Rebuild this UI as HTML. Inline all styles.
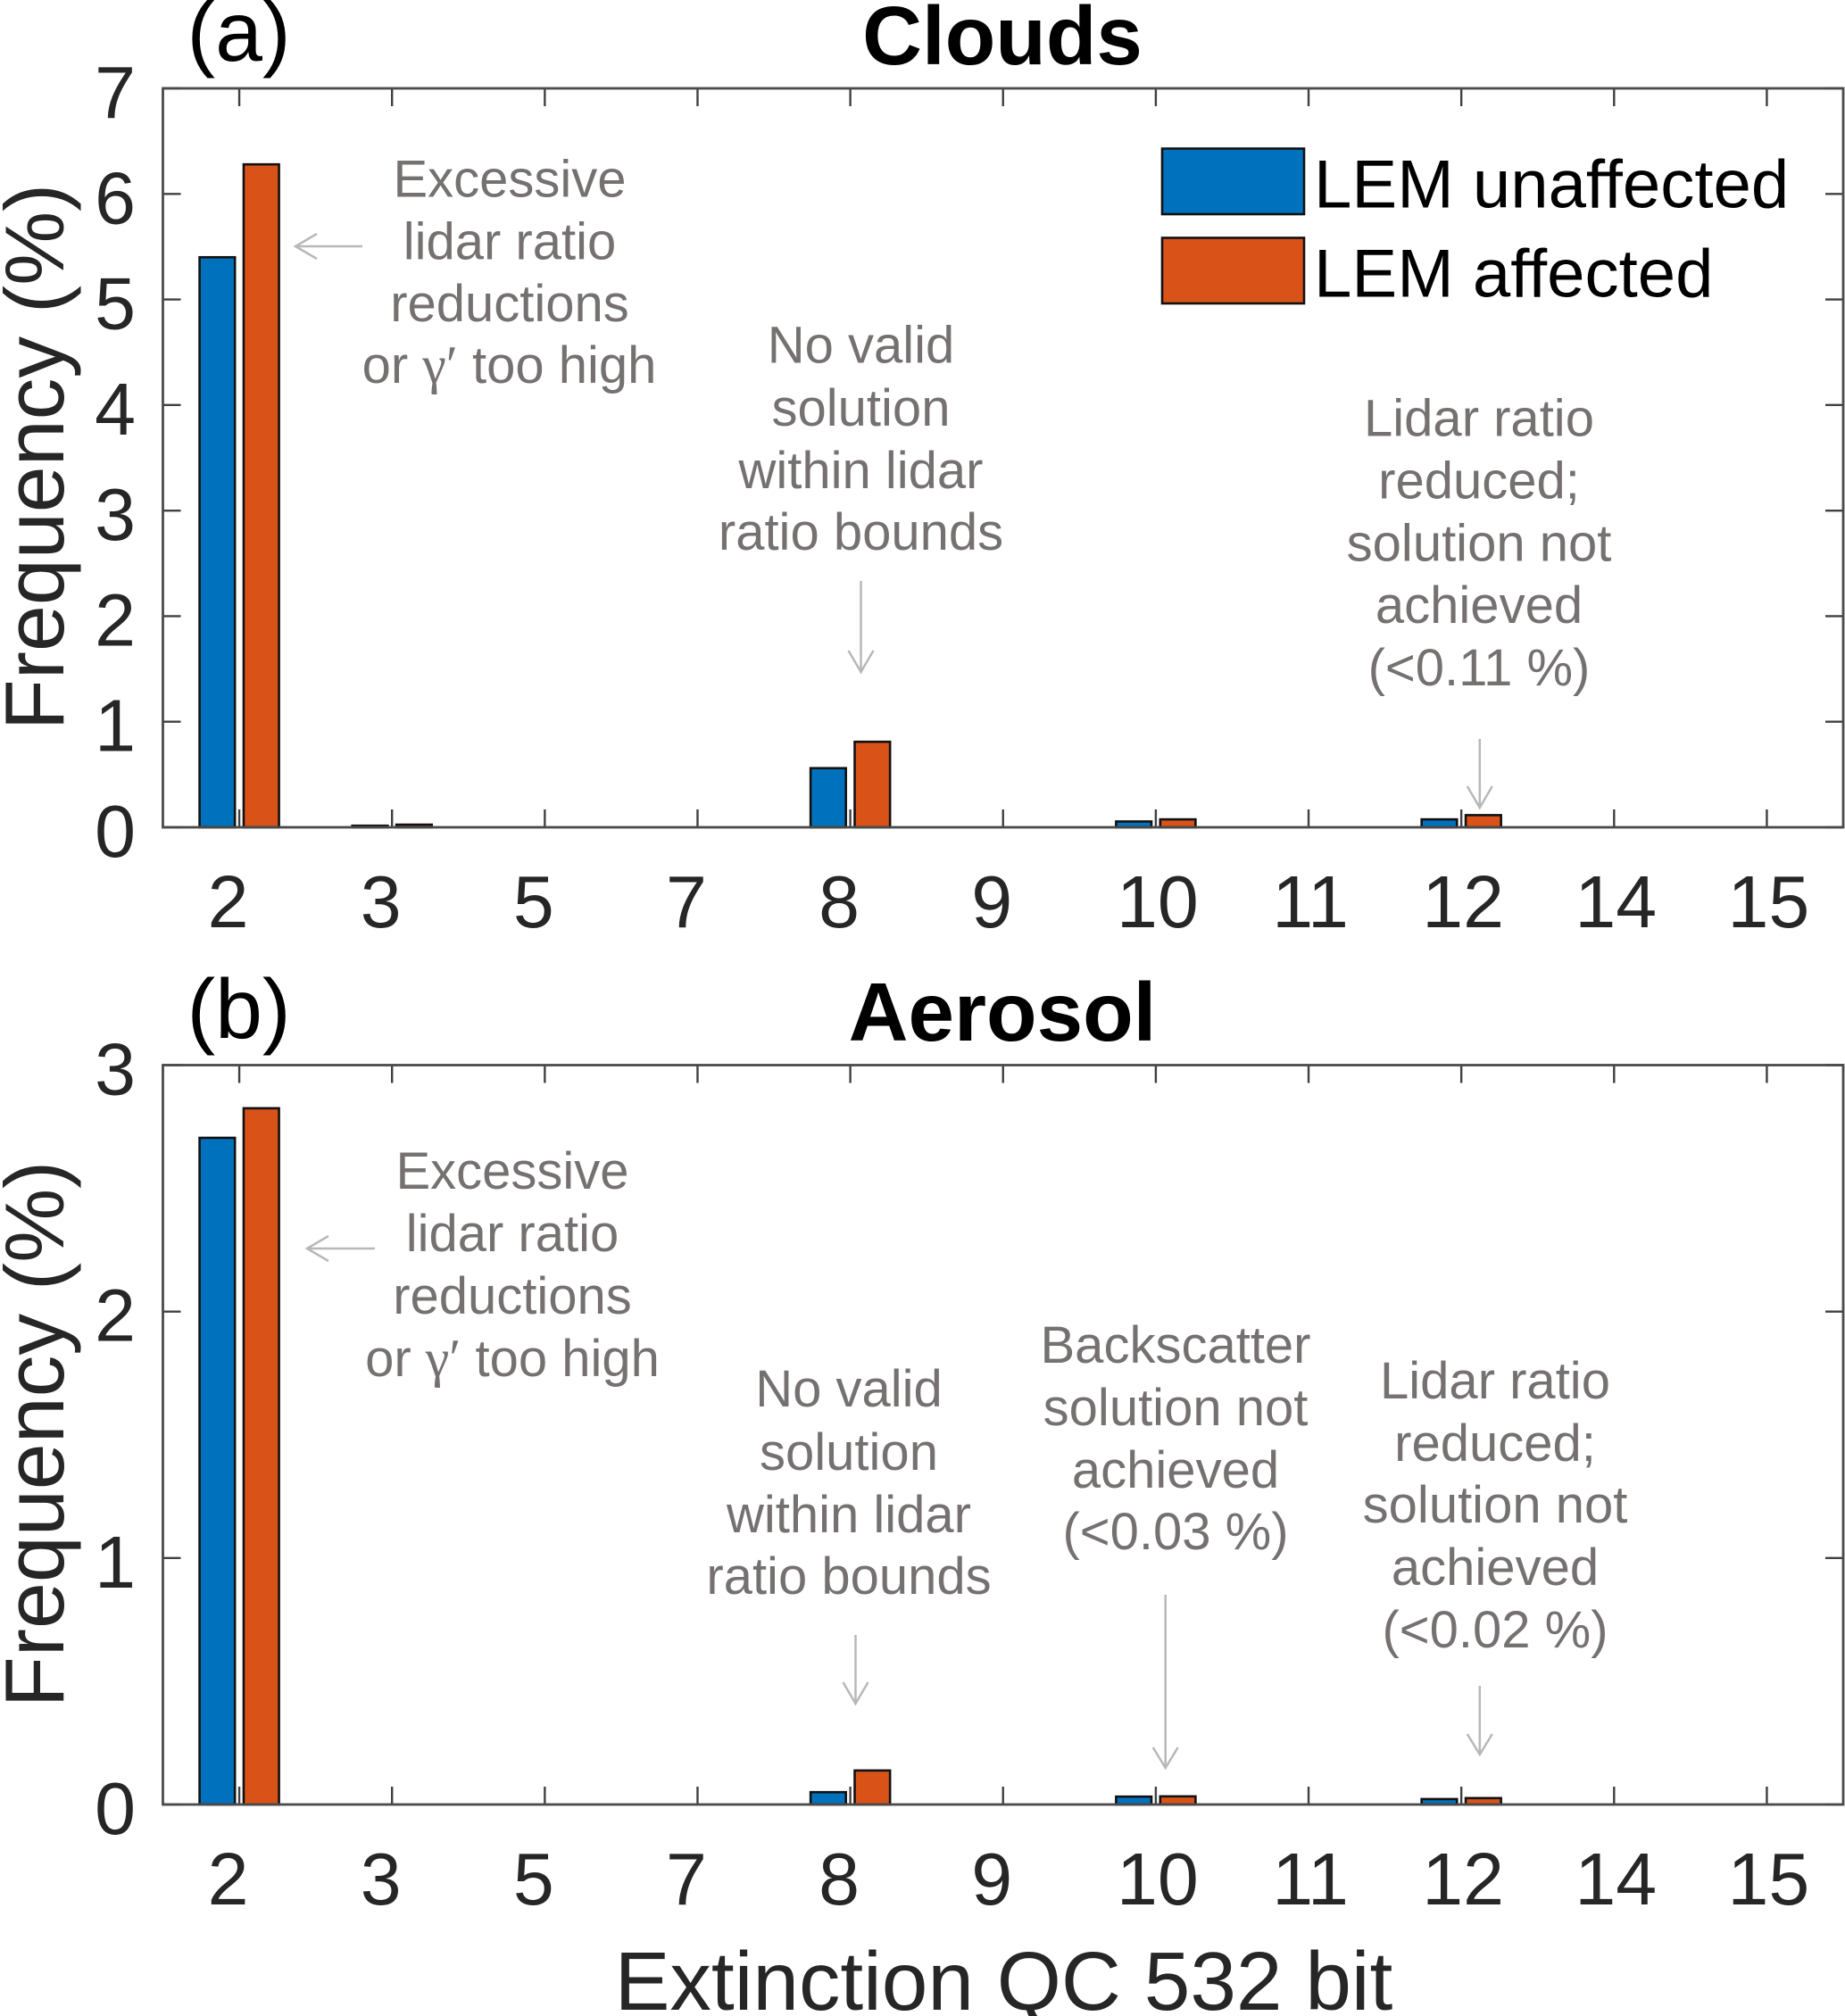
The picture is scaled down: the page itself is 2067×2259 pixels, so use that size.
<!DOCTYPE html>
<html lang="en">
<head>
<meta charset="utf-8">
<title>Extinction QC 532 bit frequency</title>
<style>
html,body{margin:0;padding:0;background:#fff;}
svg{display:block;}
text{font-family:"Liberation Sans",Arial,sans-serif;}
.ann{font-size:58px;fill:#767171;text-anchor:middle;}
.gam{font-family:"Liberation Serif",serif;font-size:60px;}
.arrow{fill:none;stroke:#b8b8b8;stroke-width:2.5;}
.tick{stroke:#404040;stroke-width:2.4;}
.frame{fill:none;stroke:#4a4a4a;stroke-width:2.8;}
.tl{font-size:82.5px;fill:#262626;}
.big{font-size:92.8px;fill:#262626;}
.ylab{font-size:93.4px;fill:#262626;}
.title{font-size:92.6px;font-weight:bold;fill:#000;text-anchor:middle;}
.panel{font-size:95px;fill:#000;}
.leg{font-size:76.2px;fill:#000;}
</style>
</head>
<body>
<svg id="chart" xmlns="http://www.w3.org/2000/svg" width="2067" height="2259" viewBox="0 0 2067 2259">
  <rect x="0" y="0" width="2067" height="2259" fill="#fff"/>

  <text class="panel" x="209.5" y="68">(a)</text>
  <text class="title" x="1123" y="72">Clouds</text>
  <text class="panel" x="209.5" y="1163">(b)</text>
  <text class="title" x="1123" y="1166">Aerosol</text>

  <text class="ylab" text-anchor="middle" transform="translate(71,512) rotate(-90)">Frequency (%)</text>
  <text class="ylab" text-anchor="middle" transform="translate(71,1607) rotate(-90)">Frequency (%)</text>
  <text class="big" text-anchor="middle" x="1124.5" y="2252">Extinction QC 532 bit</text>

  <g id="clouds-plot"></g>
  <g id="aerosol-plot"></g>

  <g>
    <text class="ann" x="571" y="220.5">Excessive</text>
    <text class="ann" x="571" y="290.5">lidar ratio</text>
    <text class="ann" x="571" y="360">reductions</text>
    <text class="ann" x="570.5" y="429">or <tspan class="gam">γ′</tspan> too high</text>
  </g>
  <g>
    <text class="ann" x="964.5" y="406.5">No valid</text>
    <text class="ann" x="964.5" y="477">solution</text>
    <text class="ann" x="964.5" y="547">within lidar</text>
    <text class="ann" x="964.5" y="616">ratio bounds</text>
  </g>
  <g>
    <text class="ann" x="1657" y="488.5">Lidar ratio</text>
    <text class="ann" x="1657" y="558.5">reduced;</text>
    <text class="ann" x="1657" y="628.5">solution not</text>
    <text class="ann" x="1657" y="698">achieved</text>
    <text class="ann" x="1657" y="768">(&lt;0.11 %)</text>
  </g>
  <g>
    <text class="ann" x="574" y="1332">Excessive</text>
    <text class="ann" x="574" y="1402">lidar ratio</text>
    <text class="ann" x="574" y="1472">reductions</text>
    <text class="ann" x="574" y="1542">or <tspan class="gam">γ′</tspan> too high</text>
  </g>
  <g>
    <text class="ann" x="951" y="1576">No valid</text>
    <text class="ann" x="951" y="1647">solution</text>
    <text class="ann" x="951" y="1717">within lidar</text>
    <text class="ann" x="951" y="1786">ratio bounds</text>
  </g>
  <g>
    <text class="ann" x="1317" y="1527">Backscatter</text>
    <text class="ann" x="1317" y="1597">solution not</text>
    <text class="ann" x="1317" y="1667">achieved</text>
    <text class="ann" x="1317" y="1736">(&lt;0.03 %)</text>
  </g>
  <g>
    <text class="ann" x="1675" y="1567">Lidar ratio</text>
    <text class="ann" x="1675" y="1637">reduced;</text>
    <text class="ann" x="1675" y="1706">solution not</text>
    <text class="ann" x="1675" y="1776">achieved</text>
    <text class="ann" x="1675" y="1846">(&lt;0.02 %)</text>
  </g>

  <g class="arrow">
    <path d="M406 276H331M355 262L331 276L355 290"/>
  </g>
  <g class="arrow">
    <path d="M964.5 651V753M950.5 729L964.5 753L978.5 729"/>
  </g>
  <g class="arrow">
    <path d="M1657.8 828V905M1643.8 881L1657.8 905L1671.8 881"/>
  </g>
  <g class="arrow">
    <path d="M420 1399H344M368 1385L344 1399L368 1413"/>
  </g>
  <g class="arrow">
    <path d="M958.5 1832V1909M944.5 1885L958.5 1909L972.5 1885"/>
  </g>
  <g class="arrow">
    <path d="M1305.7 1787V1981M1291.7 1958L1305.7 1981L1319.7 1958"/>
  </g>
  <g class="arrow">
    <path d="M1657.8 1889V1966M1643.8 1943L1657.8 1966L1671.8 1943"/>
  </g>

  <g>
    <rect x="1302" y="166.5" width="159" height="73.5" fill="#0072bd" stroke="#111" stroke-width="2.6"/>
    <text class="leg" x="1472" y="232.5">LEM unaffected</text>
    <rect x="1302" y="266.5" width="159" height="73.5" fill="#d95319" stroke="#111" stroke-width="2.6"/>
    <text class="leg" x="1472" y="332.5">LEM affected</text>
  </g>
</svg>
<script>
const categories = ['2', '3', '5', '7', '8', '9', '10', '11', '12', '14', '15'];
const cloudsUnaffected = [5.40, 0.015, 0, 0, 0.56, 0, 0.055, 0, 0.075, 0, 0];
const cloudsAffected = [6.28, 0.025, 0, 0, 0.81, 0, 0.075, 0, 0.115, 0, 0];
const cloudsYTicks = [0, 1, 2, 3, 4, 5, 6, 7];
const aerosolUnaffected = [2.705, 0, 0, 0, 0.05, 0, 0.032, 0, 0.022, 0, 0];
const aerosolAffected = [2.825, 0, 0, 0, 0.138, 0, 0.033, 0, 0.026, 0, 0];
const aerosolYTicks = [0, 1, 2, 3];

const NS = 'http://www.w3.org/2000/svg';
const LEFT = 182.5, RIGHT = 2065;
const BAR_W = 39.6, BAR_OFFSET = 24.7, TICK_LEN = 20;

function xAxis(i) {
  return LEFT + (i + 0.5) * (RIGHT - LEFT) / categories.length;
}

function makeY(top, bottom, yMax) {
  return function (v) { return bottom - (v / yMax) * (bottom - top); };
}

function make(parent, tag, attrs) {
  const el = document.createElementNS(NS, tag);
  for (const k in attrs) el.setAttribute(k, attrs[k]);
  parent.appendChild(el);
  return el;
}

function drawPanel(groupId, top, bottom, unaffected, affected, yTicks) {
  const g = document.getElementById(groupId);
  const yMax = yTicks[yTicks.length - 1];
  const y = makeY(top, bottom, yMax);

  categories.forEach(function (label, i) {
    const cx = xAxis(i);
    if (unaffected[i] > 0) {
      const a = make(g, 'rect', {x: cx - BAR_OFFSET - BAR_W / 2, y: y(unaffected[i]), width: BAR_W, height: bottom - y(unaffected[i]), fill: '#0072bd', stroke: '#111', 'stroke-width': 2.6});
      
      
    }
    if (affected[i] > 0) {
      const b = make(g, 'rect', {x: cx + BAR_OFFSET - BAR_W / 2, y: y(affected[i]), width: BAR_W, height: bottom - y(affected[i]), fill: '#d95319', stroke: '#111', 'stroke-width': 2.6});
      
      
    }
    const t1 = make(g, 'line', {class: 'tick', x1: cx, x2: cx, y1: bottom, y2: bottom - TICK_LEN});
    
    
    const t2 = make(g, 'line', {class: 'tick', x1: cx, x2: cx, y1: top, y2: top + TICK_LEN});
    
    
    const dx = label.length === 1 ? -12.5 : 2;
    const tx = make(g, 'text', {class: 'tl', x: cx + dx, y: bottom + 112, 'text-anchor': 'middle'});
    tx.textContent = label;
    
    
  });

  yTicks.forEach(function (v) {
    const yy = y(v);
    const l = make(g, 'line', {class: 'tick', x1: LEFT, x2: LEFT + TICK_LEN, y1: yy, y2: yy});
    
    
    const r = make(g, 'line', {class: 'tick', x1: RIGHT, x2: RIGHT - TICK_LEN, y1: yy, y2: yy});
    
    
    const tx = make(g, 'text', {class: 'tl', x: 152, y: yy + 33, 'text-anchor': 'end'});
    tx.textContent = String(v);
    
    
  });

  const frame = make(g, 'rect', {class: 'frame', x: LEFT, y: top, width: RIGHT - LEFT, height: bottom - top});
  
  
}

drawPanel('clouds-plot', 99, 927, cloudsUnaffected, cloudsAffected, cloudsYTicks);
drawPanel('aerosol-plot', 1193.5, 2022, aerosolUnaffected, aerosolAffected, aerosolYTicks);
</script>
</body>
</html>
